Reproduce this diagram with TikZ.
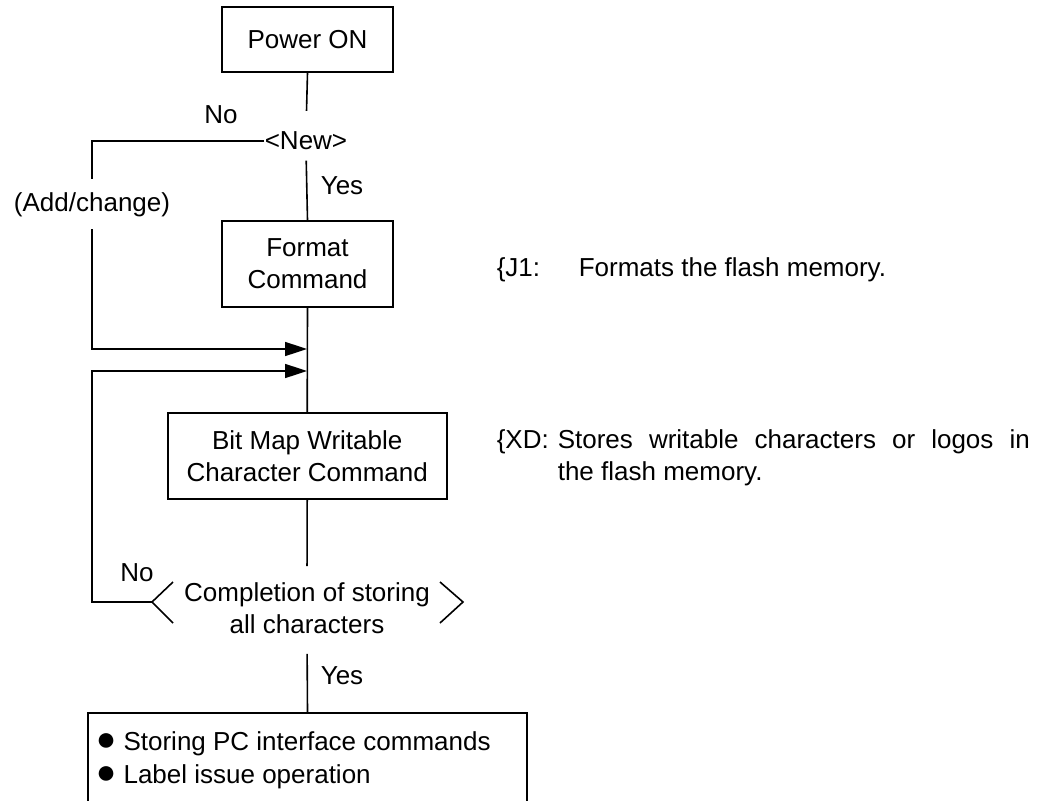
\documentclass[tikz,border=0pt]{standalone}
\usepackage{fontspec}
\setmainfont{Liberation Sans}
\usetikzlibrary{arrows.meta,calc}
\newcommand{\bigbul}{{\fontsize{34}{32}\selectfont ●}}
\begin{document}
\begin{tikzpicture}[x=1pt,y=-1pt, line width=1.6pt,
  font=\fontsize{26}{32}\selectfont,
  box/.style={draw, inner sep=0pt, align=center},
  lbl/.style={inner sep=0pt},
  arr/.style={-{Triangle[length=22pt,width=14pt]}}]
\useasboundingbox (0,0) rectangle (1046,800);
\clip (0,0) rectangle (1046,800);

% main column
\node[box, minimum width=171pt, minimum height=65pt] (power) at (307.5,39.5) {Power ON};
\node[lbl] (new) at (306,140.7) {<New>};
\node[box, minimum width=171pt, minimum height=86pt] (format) at (307.5,264) {Format\\Command};
\node[box, minimum width=279pt, minimum height=86pt] (bitmap) at (307.2,456) {Bit Map Writable\\Character Command};
\node[lbl, align=center] (done) at (307,608.5) {Completion of storing\\all characters};
\node[draw, inner sep=0pt, minimum width=439pt, minimum height=130pt, anchor=north] (final) at (307.5,712) {};
\node[lbl, anchor=base west] (b1) at (95,750) {\bigbul\ Storing PC interface commands};
\node[lbl, anchor=base west] (b2) at (95,783) {\bigbul\ Label issue operation};

% hexagon sides
\coordinate (hl) at (152,602);
\coordinate (hr) at (463,602);
\draw (173,582) -- (hl) -- (173,623);
\draw (440,582) -- (hr) -- (440,623);

% labels
\node[lbl, anchor=base] (no1) at (221,123) {No};
\node[lbl, anchor=base west] (yes1) at (320,194) {Yes};
\node[lbl, anchor=base] (no2) at (137,581) {No};
\node[lbl, anchor=base west] (yes2) at (320,684) {Yes};
\node[inner xsep=0pt, inner ysep=12pt, anchor=base] (addc) at (92,211) {(Add/change)};

% merge points
\coordinate (m1) at (307,349);
\coordinate (m2) at (307,371);

% connectors
\draw[shorten >=20pt] (power.south) -- (new.north);
\draw[shorten <=10pt] (new.south) -- (format.north);
\draw (format.south) -- (bitmap.north);
\draw[shorten >=16pt] (bitmap.south) -- (done.north);
\draw[shorten <=19pt] (done.south) -- (final.north);
\draw (new.west) -| (addc.north);
\draw[arr] (addc.south) |- (m1);
\draw[arr] (hl) -- (hl -| addc.south) |- (m2);

% notes
\node[lbl, anchor=base west] (j1) at (496,276) {\{J1:};
\node[lbl, anchor=base west] (j1t) at (578,276) {Formats the flash memory.};
\node[lbl, anchor=base west] (xd) at (496,448) {\{XD:};
\node[lbl, anchor=north west, text width=472pt, align=justify] (xdt) at (557,429)
  {Stores writable characters or logos in\linebreak the flash memory.};
\end{tikzpicture}
\end{document}
